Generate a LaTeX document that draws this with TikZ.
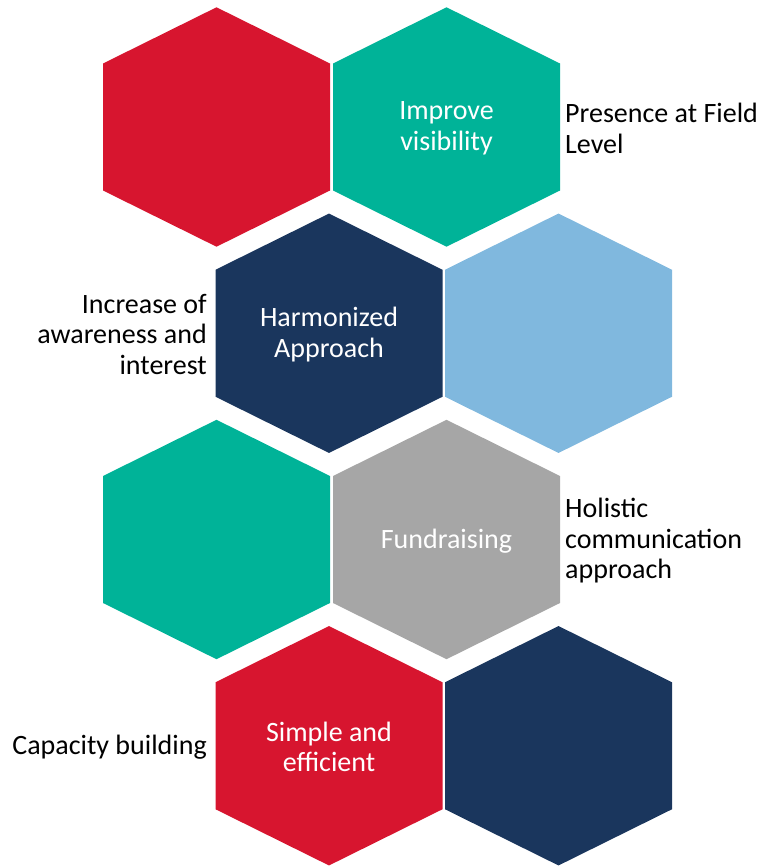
\documentclass[tikz,border=0pt]{standalone}
\usepackage{fontspec}
\setmainfont{Carlito}
\definecolor{hexred}{HTML}{D7152F}
\definecolor{hexteal}{HTML}{00B398}
\definecolor{hexnavy}{HTML}{1A365D}
\definecolor{hexsky}{HTML}{80B8DE}
\definecolor{hexgray}{HTML}{A6A6A6}
\begin{document}
\begin{tikzpicture}[x=1pt, y=-1pt,
    intext/.style={inner sep=0pt, align=center, text=white},
    outtext/.style={inner sep=0pt, text=black}]

  \fontsize{28}{30.5}\selectfont

  \newcommand\HexW{113.5}
  \newcommand\HexH{119.7}
  \newcommand\HexS{63.5}
  \newcommand\hexa[3]{\fill[#3] (#1, #2-\HexH) -- (#1+\HexW, #2-\HexS)
    -- (#1+\HexW, #2+\HexS) -- (#1, #2+\HexH) -- (#1-\HexW, #2+\HexS)
    -- (#1-\HexW, #2-\HexS) -- cycle;}

  \useasboundingbox (0,0) rectangle (762,867);

  \hexa{216.5}{127}{hexred}
  \hexa{446.5}{127}{hexteal}
  \hexa{329}{333.25}{hexnavy}
  \hexa{558.5}{333.25}{hexsky}
  \hexa{216.5}{539.5}{hexteal}
  \hexa{446.5}{539.5}{hexgray}
  \hexa{329}{745.75}{hexred}
  \hexa{558.5}{745.75}{hexnavy}

  \node[intext] (visib) at (446.5, 128.5) {Improve\\visibility};
  \node[intext] (harmo) at (329, 334.5) {Harmonized\\Approach};
  \node[intext] (fundr) at (446.5, 541) {Fundraising};
  \node[intext] (simpl) at (329, 747) {Simple and\\efficient};

  \node[outtext, anchor=west, align=left] (field) at (565, 128.5) {Presence at Field\\Level};
  \node[outtext, anchor=east, align=right] (aware) at (207, 334.5) {Increase of\\awareness and\\interest};
  \node[outtext, anchor=west, align=left] (holis) at (565, 541) {Holistic\\communication\\approach};
  \node[outtext, anchor=east, align=right] (capac) at (207, 747) {Capacity building};
\end{tikzpicture}
\end{document}
